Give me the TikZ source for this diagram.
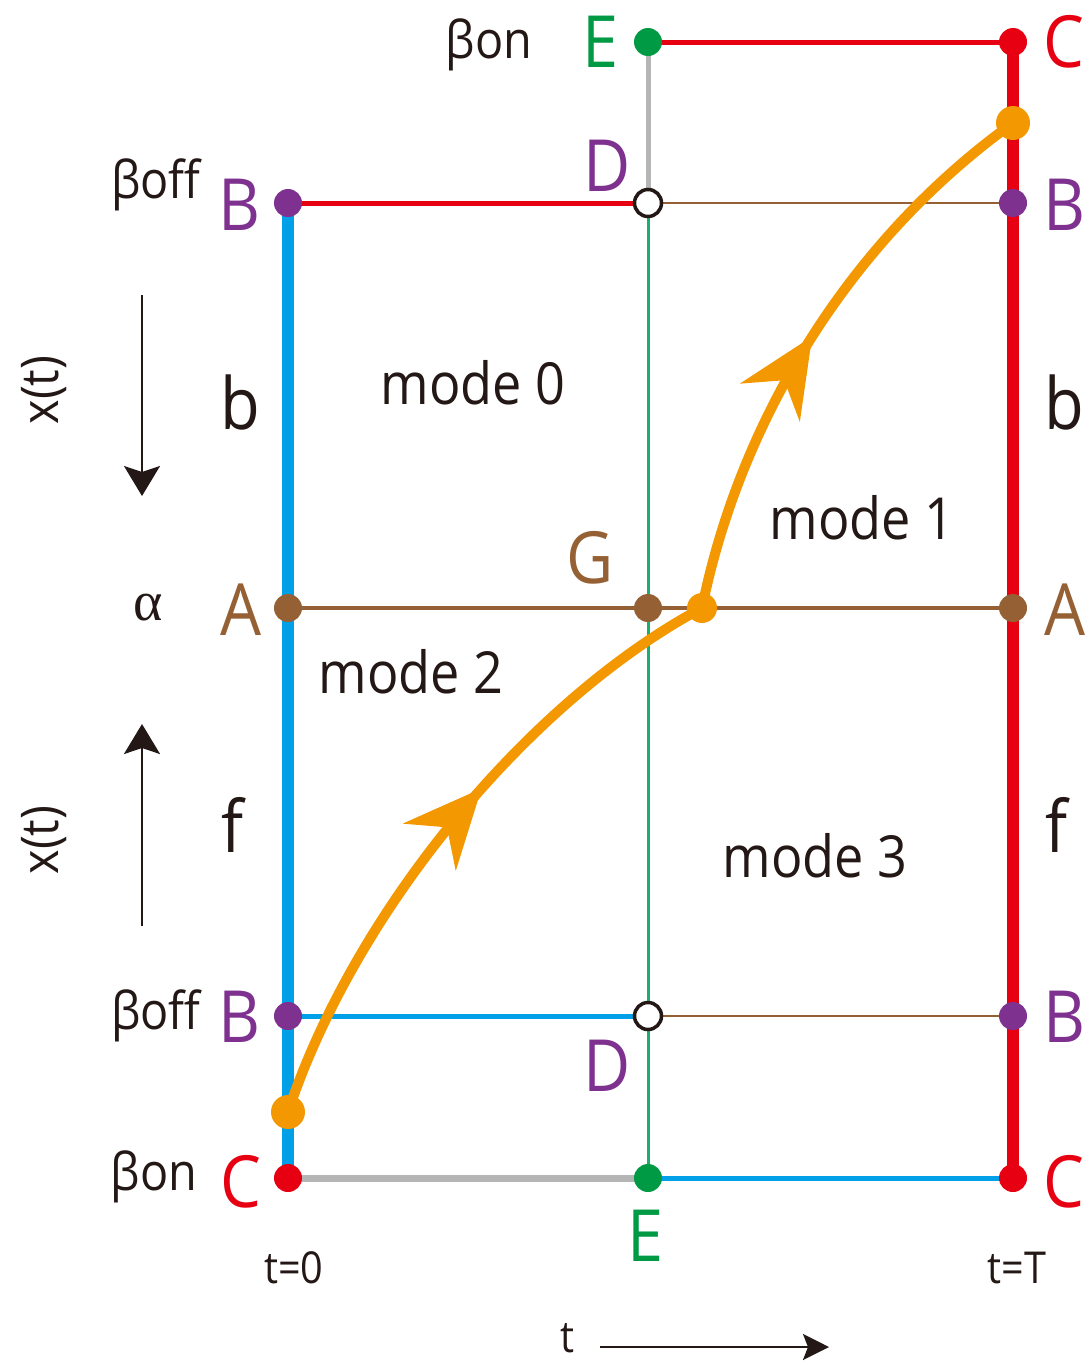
\documentclass[tikz,border=0pt]{standalone}
\usepackage{fontspec}
\setmainfont{Open Sans}[FakeStretch=0.9]
\newfontfamily\greekserif{Liberation Serif}
\usetikzlibrary{arrows.meta,decorations.markings}
\definecolor{cred}{HTML}{E60012}
\definecolor{cblue}{HTML}{00A0E9}
\definecolor{cgreen}{HTML}{009944}
\definecolor{clgreen}{HTML}{1BAF6E}
\definecolor{cpurple}{HTML}{7E318E}
\definecolor{cbrown}{HTML}{956134}
\definecolor{corange}{HTML}{F39800}
\definecolor{cgray}{HTML}{B5B5B5}
\definecolor{ctext}{HTML}{231815}
\tikzset{
  dotnode/.style={circle,inner sep=0pt,minimum size=28pt,fill=#1},
  opendot/.style={circle,inner sep=0pt,minimum size=27pt,fill=white,draw=ctext,line width=3.5pt},
  orangedot/.style={circle,inner sep=0pt,minimum size=34pt,fill=corange},
  letter/.style={text=#1,font=\fontsize{72}{72}\selectfont,inner sep=0pt},
  plain/.style={text=ctext,font=\fontsize{60}{60}\selectfont,inner sep=0pt},
  small/.style={text=ctext,font=\fontsize{52}{52}\selectfont,inner sep=0pt},
  modetext/.style={text=ctext,font=\fontsize{58}{58}\selectfont,inner sep=0pt},
  traj/.style={draw=corange,line width=10pt,line cap=round,
    postaction={decorate},decoration={markings,
      mark=at position #1 with {\arrow[corange]{Stealth[length=78pt,width=70pt,inset=26pt]}}}},
  axisarrow/.style={draw=ctext,line width=2.5pt,-{Stealth[length=30pt,width=36pt,inset=6pt]}}
}
\begin{document}
\begin{tikzpicture}[x=1pt,y=-1pt]
\useasboundingbox (0,0) rectangle (1086,1363);
% points
\coordinate (Bl) at (288,203);
\coordinate (Al) at (288,608);
\coordinate (Bl2) at (288,1016);
\coordinate (Cl) at (288,1178);
\coordinate (Et) at (648,42);
\coordinate (Dt) at (648,203);
\coordinate (G) at (648,608);
\coordinate (Db) at (648,1016);
\coordinate (Eb) at (648,1178);
\coordinate (Ct) at (1013,42);
\coordinate (Br) at (1013,203);
\coordinate (Ar) at (1013,608);
\coordinate (Br2) at (1013,1016);
\coordinate (Cr) at (1013,1178);
\coordinate (O1) at (288,1112);
\coordinate (O2) at (702,608);
\coordinate (O3) at (1013,123);
% thin lines
\draw[cbrown,line width=1.8pt] (Dt) -- (Br);
\draw[cbrown,line width=1.8pt] (Db) -- (Br2);
\draw[clgreen,line width=3pt] (Dt) -- (Eb);
\draw[cgray,line width=5pt] (Et) -- (Dt);
% horizontal lines
\draw[cred,line width=5pt] (Et) -- (Ct);
\draw[cred,line width=5pt] (Bl) -- (Dt);
\draw[cbrown,line width=4pt] (Al) -- (Ar);
\draw[cblue,line width=5pt] (Bl2) -- (Db);
\draw[cgray,line width=7pt] (Cl) -- (Eb);
\draw[cblue,line width=5pt] (Eb) -- (Cr);
% thick verticals
\draw[cblue,line width=12pt] (Bl) -- (Cl);
\draw[cred,line width=12pt] (Ct) -- (Cr);
% trajectory
\draw[traj=0.57] (O1) .. controls (355,910) and (530,700) .. (O2);
\draw[traj=0.5] (O2) .. controls (740,420) and (850,240) .. (O3);
% dots
\node[dotnode=cpurple] (dBl) at (Bl) {};
\node[dotnode=cbrown] (dAl) at (Al) {};
\node[dotnode=cpurple] (dBl2) at (Bl2) {};
\node[dotnode=cred] (dCl) at (Cl) {};
\node[dotnode=cgreen] (dEt) at (Et) {};
\node[opendot] (dDt) at (Dt) {};
\node[dotnode=cbrown] (dG) at (G) {};
\node[opendot] (dDb) at (Db) {};
\node[dotnode=cgreen] (dEb) at (Eb) {};
\node[dotnode=cred] (dCt) at (Ct) {};
\node[dotnode=cpurple] (dBr) at (Br) {};
\node[dotnode=cbrown] (dAr) at (Ar) {};
\node[dotnode=cpurple] (dBr2) at (Br2) {};
\node[dotnode=cred] (dCr) at (Cr) {};
\node[orangedot] (dO1) at (O1) {};
\node[orangedot,minimum size=30pt] (dO2) at (O2) {};
\node[orangedot] (dO3) at (O3) {};
% colored letters
\node[letter=cgreen] (lEt) at (601,42) {E};
\node[letter=cpurple] (lDt) at (607,166) {D};
\node[letter=cpurple] (lBl) at (239,205) {B};
\node[letter=cpurple] (lBr) at (1064,205) {B};
\node[letter=cbrown] (lAl) at (241,610) {A};
\node[letter=cbrown] (lAr) at (1065,610) {A};
\node[letter=cbrown] (lG) at (590,558) {G};
\node[letter=cpurple] (lBl2) at (239,1017) {B};
\node[letter=cpurple] (lBr2) at (1064,1017) {B};
\node[letter=cpurple] (lDb) at (607,1066) {D};
\node[letter=cred] (lCl) at (241,1182) {C};
\node[letter=cred] (lCr) at (1064,1182) {C};
\node[letter=cred] (lCt) at (1064,42) {C};
\node[letter=cgreen] (lEb) at (646,1236) {E};
% black labels
\node[small] (bon1) at (489,45) {βon};
\node[small] (boff1) at (156,185) {βoff};
\node[small] (boff2) at (156,1016) {βoff};
\node[small] (bon2) at (154,1177) {βon};
\node[text=ctext,font=\greekserif\fontsize{56}{56}\selectfont,inner sep=0pt] (alpha) at (148,608) {α};
\node[plain,font=\fontsize{72}{72}\selectfont] (bL) at (240,402) {b};
\node[plain,font=\fontsize{72}{72}\selectfont] (bR) at (1064,402) {b};
\node[plain,font=\fontsize{72}{72}\selectfont] (fL) at (232,825) {f};
\node[plain,font=\fontsize{72}{72}\selectfont] (fR) at (1056,825) {f};
\node[small,rotate=90] (xt1) at (44,390) {x(t)};
\node[small,rotate=90] (xt2) at (44,840) {x(t)};
\node[modetext] (m0) at (473,383) {mode 0};
\node[modetext] (m1) at (862,518) {mode 1};
\node[modetext] (m2) at (411,672) {mode 2};
\node[modetext] (m3) at (815,856) {mode 3};
\node[small,font=\fontsize{44}{44}\selectfont] (t0) at (294,1268) {t=0};
\node[small,font=\fontsize{44}{44}\selectfont] (tT) at (1017,1268) {t=T};
\node[small,font=\fontsize{44}{44}\selectfont] (tl) at (567,1338) {t};
% axis arrows
\coordinate (a1s) at (142,295);
\coordinate (a1e) at (142,496);
\coordinate (a2s) at (142,926);
\coordinate (a2e) at (142,724);
\coordinate (a3s) at (600,1347);
\coordinate (a3e) at (829,1347);
\draw[axisarrow] (a1s) -- (a1e);
\draw[axisarrow] (a2s) -- (a2e);
\draw[draw=ctext,line width=2.5pt,-{Stealth[length=26pt,width=26pt,inset=5pt]}] (a3s) -- (a3e);
\end{tikzpicture}
\end{document}
